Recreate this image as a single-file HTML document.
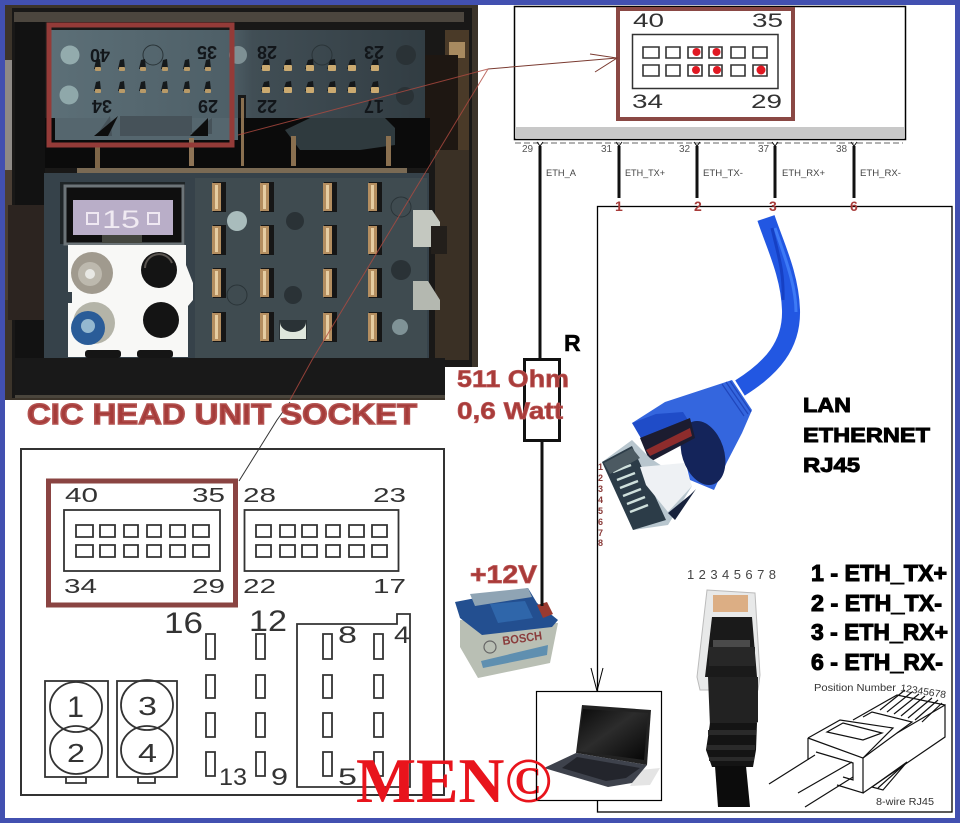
<!DOCTYPE html>
<html><head><meta charset="utf-8"><style>
html,body{margin:0;padding:0;background:#fff}
svg{display:block}
text{font-family:"Liberation Sans",sans-serif}
</style></head><body>
<svg xmlns="http://www.w3.org/2000/svg" width="960" height="823" viewBox="0 0 960 823">
<defs>
<linearGradient id="scr" x1="0" x2="1" y1="0" y2="1"><stop offset="0" stop-color="#0a0a0a"/><stop offset=".45" stop-color="#2c2c2c"/><stop offset="1" stop-color="#050505"/></linearGradient>
<linearGradient id="pan" x1="0" x2="1" y1="0" y2="0"><stop offset="0" stop-color="#5c6f77"/><stop offset=".48" stop-color="#4e5f67"/><stop offset=".54" stop-color="#414e55"/><stop offset="1" stop-color="#323d43"/></linearGradient>
<g id="sp"><path d="M-4 3L-2 -6L2 -7L3 3Z" fill="#161a1c"/><rect x="-3" y="1" width="6" height="4" rx="1" fill="#b89a68"/></g>
<g id="sq"><path d="M-5 3L-2 -6L3 -7L4 3Z" fill="#15181a"/><rect x="-4" y="-1" width="8" height="6" rx="1" fill="#cbaa70"/></g>
<g id="bp"><rect x="-2" y="0" width="13" height="30" fill="#161616"/><rect x="-3" y="1" width="9" height="28" fill="#b48e60"/><rect x="0" y="3" width="3" height="24" fill="#e6cda2"/></g>
</defs>
<rect width="960" height="823" fill="#fff"/>

<!-- PHOTO -->
<rect x="5" y="5" width="473" height="405" fill="#3c342a"/>
<rect x="5" y="60" width="10" height="110" fill="#8e8a86"/>
<rect x="5" y="170" width="10" height="130" fill="#4a3e34"/>
<rect x="12" y="8" width="460" height="390" fill="#191817"/>
<rect x="14" y="12" width="450" height="10" fill="#4c463e"/>
<rect x="15" y="22" width="30" height="340" fill="#121212"/>
<rect x="8" y="205" width="38" height="115" fill="#2c2420"/>
<rect x="445" y="30" width="24" height="330" fill="#4a3a28"/>
<rect x="449" y="42" width="16" height="16" fill="#a88a60"/>
<rect x="420" y="55" width="38" height="100" fill="#1e1712"/>
<rect x="435" y="150" width="34" height="210" fill="#3a3025"/>
<rect x="50" y="30" width="375" height="90" fill="url(#pan)"/>
<rect x="238" y="95" width="8" height="70" fill="#181818"/>
<rect x="45" y="118" width="385" height="50" fill="#0b0b0b"/>
<path d="M55 118H238V140H55Z" fill="#55666e"/>
<path d="M110 116l-14 20 16 0zM212 118l-22 16h22zM120 116h72v20h-72z" fill="#465259"/>
<path d="M118 116l-10 20-14 0zM208 118l-18 18h18z" fill="#0d0d0d"/>
<path d="M285 130L310 118H385L395 128V145L360 150H300Z" fill="#2f3a3e"/>
<rect x="77" y="168" width="330" height="5" fill="#7a6a54"/>
<rect x="95" y="146" width="5" height="22" fill="#7e6648"/>
<rect x="189" y="138" width="5" height="28" fill="#8e7456"/>
<rect x="241" y="98" width="3" height="68" fill="#8a7050"/>
<rect x="291" y="136" width="5" height="30" fill="#8a7050"/>
<rect x="386" y="136" width="5" height="30" fill="#8a7050"/>
<rect x="44" y="173" width="385" height="190" fill="#36424a"/>
<rect x="195" y="178" width="232" height="180" fill="#3f4b50"/>
<rect x="60" y="182" width="125" height="62" fill="#1f2527"/>
<rect x="65" y="186" width="118" height="58" fill="#0f0f0f" stroke="#6c7478" stroke-width="3"/>
<rect x="73" y="200" width="100" height="35" fill="#b9aec8"/>
<rect x="87" y="213" width="11" height="11" fill="none" stroke="#efe8f2" stroke-width="2"/>
<rect x="148" y="213" width="11" height="11" fill="none" stroke="#efe8f2" stroke-width="2"/>
<text x="102" y="228" font-size="25" fill="#f0eaf2" textLength="38" lengthAdjust="spacingAndGlyphs">15</text>
<rect x="102" y="235" width="40" height="8" fill="#44463f"/>
<path d="M68 245H186V265L193 283V300L188 306V357H68V303H72V292H68Z" fill="#f8f8f6"/>
<circle cx="92" cy="273" r="21" fill="#a09a8e"/><circle cx="90" cy="274" r="12" fill="#bdb9ae"/><circle cx="90" cy="274" r="5" fill="#e8e8e4"/>
<circle cx="159" cy="270" r="18" fill="#141414"/><path d="M145 268a14 14 0 0 1 27-5" fill="none" stroke="#5a5550" stroke-width="2"/>
<circle cx="94" cy="323" r="21" fill="#b4b4a8"/><circle cx="88" cy="328" r="17" fill="#2a5c98"/><circle cx="88" cy="326" r="7" fill="#94b8d0"/>
<circle cx="161" cy="320" r="18" fill="#141414"/>
<rect x="85" y="350" width="36" height="8" rx="3" fill="#151515"/><rect x="137" y="350" width="36" height="8" rx="3" fill="#151515"/>
<rect x="15" y="358" width="430" height="38" fill="#191919"/>
<rect x="15" y="395" width="430" height="3" fill="#4a453c"/>
<!-- socket holes -->
<circle cx="70" cy="55" r="9.500" fill="#93abad"/><circle cx="69" cy="95" r="9.500" fill="#8fa8aa"/>
<circle cx="238" cy="55" r="9" fill="#7e9094"/>
<circle cx="237" cy="221" r="10" fill="#a9bcbc"/><circle cx="400" cy="327" r="8" fill="#7f9296"/>
<g fill="none" stroke="#2a3438" stroke-width="1"><circle cx="153" cy="55" r="10"/><circle cx="322" cy="55" r="10"/><circle cx="237" cy="295" r="10"/><circle cx="401" cy="207" r="10"/></g>
<g fill="#2a3236"><circle cx="406" cy="55" r="10"/><circle cx="405" cy="96" r="9"/><circle cx="295" cy="221" r="9"/><circle cx="293" cy="295" r="9"/><circle cx="401" cy="270" r="10"/></g>
<!-- top pins -->
<use href="#sp" x="98" y="66"/><use href="#sp" x="122" y="66"/><use href="#sp" x="143" y="66"/><use href="#sp" x="165" y="66"/><use href="#sp" x="187" y="66"/><use href="#sp" x="208" y="66"/>
<use href="#sp" x="98" y="88"/><use href="#sp" x="122" y="88"/><use href="#sp" x="143" y="88"/><use href="#sp" x="165" y="88"/><use href="#sp" x="187" y="88"/><use href="#sp" x="208" y="88"/>
<use href="#sq" x="266" y="66"/><use href="#sq" x="288" y="66"/><use href="#sq" x="310" y="66"/><use href="#sq" x="332" y="66"/><use href="#sq" x="352" y="66"/><use href="#sq" x="375" y="66"/>
<use href="#sq" x="266" y="88"/><use href="#sq" x="288" y="88"/><use href="#sq" x="310" y="88"/><use href="#sq" x="332" y="88"/><use href="#sq" x="352" y="88"/><use href="#sq" x="375" y="88"/>
<g fill="#12161a" font-size="18" font-weight="bold">
<text transform="rotate(180 100 55)" x="90" y="61">40</text><text transform="rotate(180 207 52)" x="197" y="58">35</text>
<text transform="rotate(180 102 106)" x="92" y="112">34</text><text transform="rotate(180 208 106)" x="198" y="112">29</text>
<text transform="rotate(180 267 52)" x="257" y="58">28</text><text transform="rotate(180 374 52)" x="364" y="58">23</text>
<text transform="rotate(180 267 106)" x="257" y="112">22</text><text transform="rotate(180 374 106)" x="364" y="112">17</text>
</g>
<!-- big pins -->
<use href="#bp" x="215" y="182"/><use href="#bp" x="263" y="182"/><use href="#bp" x="326" y="182"/><use href="#bp" x="371" y="182"/>
<use href="#bp" x="215" y="225"/><use href="#bp" x="263" y="225"/><use href="#bp" x="326" y="225"/><use href="#bp" x="371" y="225"/>
<use href="#bp" x="215" y="268"/><use href="#bp" x="263" y="268"/><use href="#bp" x="326" y="268"/><use href="#bp" x="371" y="268"/>
<use href="#bp" x="215" y="312"/><use href="#bp" x="263" y="312"/><use href="#bp" x="326" y="312"/><use href="#bp" x="371" y="312"/>
<path d="M279 320h28v20h-28z" fill="#2a3236"/><path d="M280 322a13 10 0 0 0 26 0v17h-26z" fill="#dfe6dc"/>
<!-- right clips -->
<path d="M413 210H432L440 222V247H413Z" fill="#c4c8c0"/><path d="M413 281H428L440 300V310H413Z" fill="#b4b8b0"/>
<rect x="431" y="226" width="16" height="28" fill="#231f1b"/>
<!-- red box -->
<rect x="49" y="25" width="183" height="120" fill="none" stroke="#943b38" stroke-width="5"/>

<!-- CIC text -->
<rect x="445" y="367" width="40" height="50" fill="#fff"/>
<rect x="0" y="400" width="445" height="30" fill="#fff"/>
<path d="M290 402L277 420L239 481" fill="none" stroke="#333" stroke-width="1"/>
<text x="27" y="424" font-size="29" font-weight="bold" fill="#a53c3a" stroke="#b45250" stroke-width="1.400" textLength="390" lengthAdjust="spacingAndGlyphs">CIC HEAD UNIT SOCKET</text>

<!-- leaders -->
<g fill="none" stroke="#b04a40" stroke-width="1" opacity=".8">
<path d="M238 135L488 69"/>
<path d="M488 69L312 360L290 400"/>
</g>

<!-- lower-left diagram -->
<rect x="21" y="449" width="423" height="346" fill="none" stroke="#333" stroke-width="2"/>
<rect x="48.500" y="481" width="187" height="124" fill="none" stroke="#8a4442" stroke-width="5"/>
<g fill="none" stroke="#333" stroke-width="1.800">
<rect x="64" y="510" width="156" height="61"/>
<rect x="244.500" y="510" width="154" height="61"/>
<path d="M76 525h17v12h-17zM100 525h15v12h-15zM124 525h14v12h-14zM147 525h14v12h-14zM170 525h15v12h-15zM193 525h16v12h-16z"/>
<path d="M76 545h17v12h-17zM100 545h15v12h-15zM124 545h14v12h-14zM147 545h14v12h-14zM170 545h15v12h-15zM193 545h16v12h-16z"/>
<path d="M256 525h15v12h-15zM280 525h15v12h-15zM302 525h15v12h-15zM326 525h14v12h-14zM349 525h15v12h-15zM372 525h15v12h-15z"/>
<path d="M256 545h15v12h-15zM280 545h15v12h-15zM302 545h15v12h-15zM326 545h14v12h-14zM349 545h15v12h-15zM372 545h15v12h-15z"/>
<path d="M297 624H397V614H410V787H297Z"/>
<path d="M206 634h9v25h-9zM256 634h9v25h-9zM323 634h9v25h-9zM374 634h9v25h-9z"/>
<path d="M206 675h9v23h-9zM256 675h9v23h-9zM323 675h9v23h-9zM374 675h9v23h-9z"/>
<path d="M206 713h9v24h-9zM256 713h9v24h-9zM323 713h9v24h-9zM374 713h9v24h-9z"/>
<path d="M206 752h9v24h-9zM256 752h9v24h-9zM323 752h9v24h-9zM374 752h9v24h-9z"/>
<rect x="45" y="681" width="63" height="96"/><rect x="117" y="681" width="60" height="96"/>
<path d="M66 777v6h20v-6M138 777v6h17v-6"/>
<ellipse cx="76" cy="707" rx="26" ry="25"/><ellipse cx="76" cy="750" rx="26" ry="24"/>
<ellipse cx="147" cy="705" rx="26" ry="25"/><ellipse cx="147" cy="750" rx="26" ry="24"/>
</g>
<g fill="#333" font-size="20">
<text x="65" y="502" textLength="33" lengthAdjust="spacingAndGlyphs">40</text>
<text x="192" y="502" textLength="33" lengthAdjust="spacingAndGlyphs">35</text>
<text x="243" y="502" textLength="33" lengthAdjust="spacingAndGlyphs">28</text>
<text x="373" y="502" textLength="33" lengthAdjust="spacingAndGlyphs">23</text>
<text x="64" y="593" textLength="33" lengthAdjust="spacingAndGlyphs">34</text>
<text x="192" y="593" textLength="33" lengthAdjust="spacingAndGlyphs">29</text>
<text x="243" y="593" textLength="33" lengthAdjust="spacingAndGlyphs">22</text>
<text x="373" y="593" textLength="33" lengthAdjust="spacingAndGlyphs">17</text>
</g>
<g fill="#333" font-size="30">
<text x="164" y="633" textLength="39" lengthAdjust="spacingAndGlyphs">16</text>
<text x="249" y="631" textLength="38" lengthAdjust="spacingAndGlyphs">12</text>
</g>
<g fill="#333" font-size="24">
<text x="338" y="643" textLength="19" lengthAdjust="spacingAndGlyphs">8</text>
<text x="394" y="643" textLength="16" lengthAdjust="spacingAndGlyphs">4</text>
<text x="219" y="785" textLength="28" lengthAdjust="spacingAndGlyphs">13</text>
<text x="271" y="785" textLength="17" lengthAdjust="spacingAndGlyphs">9</text>
<text x="338" y="785" textLength="19" lengthAdjust="spacingAndGlyphs">5</text>
<text x="67" y="717" font-size="30" textLength="17" lengthAdjust="spacingAndGlyphs">1</text>
<text x="67" y="762" font-size="26" textLength="18" lengthAdjust="spacingAndGlyphs">2</text>
<text x="138" y="715" font-size="26" textLength="19" lengthAdjust="spacingAndGlyphs">3</text>
<text x="138" y="762" font-size="26" textLength="19" lengthAdjust="spacingAndGlyphs">4</text>
</g>

<!-- top right box -->
<rect x="514.500" y="6.500" width="391" height="133" fill="#fff" stroke="#000" stroke-width="1.500"/>
<rect x="515" y="127" width="389" height="11" fill="#c8c8c8"/>
<rect x="618" y="9" width="175" height="110" fill="none" stroke="#8a4844" stroke-width="4"/>
<rect x="632.500" y="34.500" width="145.500" height="54" fill="none" stroke="#333" stroke-width="1.500"/>
<path d="M643 47h16v11h-16zM666 47h14v11h-14zM688 47h14v11h-14zM709 47h13v11h-13zM731 47h14v11h-14zM753 47h14v11h-14zM643 65h16v11h-16zM666 65h14v11h-14zM688 65h14v11h-14zM709 65h13v11h-13zM731 65h14v11h-14zM753 65h14v11h-14z" fill="none" stroke="#333" stroke-width="1.600"/>
<g fill="#e01822"><circle cx="696.500" cy="52" r="4"/><circle cx="716.500" cy="52" r="4"/><circle cx="696" cy="70" r="4"/><circle cx="717" cy="70" r="4"/><circle cx="761" cy="70" r="4.500"/></g>
<g fill="#333" font-size="19">
<text x="633" y="27" textLength="31" lengthAdjust="spacingAndGlyphs">40</text>
<text x="752" y="27" textLength="31" lengthAdjust="spacingAndGlyphs">35</text>
<text x="632" y="108" textLength="31" lengthAdjust="spacingAndGlyphs">34</text>
<text x="751" y="108" textLength="31" lengthAdjust="spacingAndGlyphs">29</text>
</g>
<path d="M488 69L617 58M590 54L617 58L595 72" fill="none" stroke="#7a3a30" stroke-width="1"/>
<path d="M515 143H903" stroke="#999" stroke-width="1.500" stroke-dasharray="6 3"/>
<g stroke="#111" stroke-width="3" fill="none">
<path d="M540 146V359"/><path d="M619 146V198"/><path d="M697 146V198"/><path d="M775 146V198"/><path d="M854 146V198"/>
<path d="M542 441V610"/>
<rect x="524.500" y="359.500" width="35" height="81"/>
</g>
<path d="M537 142l3 4 3-4M616 142l3 4 3-4M694 142l3 4 3-4M772 142l3 4 3-4M851 142l3 4 3-4" fill="none" stroke="#111" stroke-width="1"/>
<g fill="#555" font-size="10">
<text x="522" y="152">29</text><text x="601" y="152">31</text><text x="679" y="152">32</text><text x="758" y="152">37</text><text x="836" y="152">38</text>
</g>
<g fill="#444" font-size="9">
<text x="546" y="176" textLength="30" lengthAdjust="spacingAndGlyphs">ETH_A</text>
<text x="625" y="176" textLength="40" lengthAdjust="spacingAndGlyphs">ETH_TX+</text>
<text x="703" y="176" textLength="40" lengthAdjust="spacingAndGlyphs">ETH_TX-</text>
<text x="782" y="176" textLength="43" lengthAdjust="spacingAndGlyphs">ETH_RX+</text>
<text x="860" y="176" textLength="41" lengthAdjust="spacingAndGlyphs">ETH_RX-</text>
</g>
<text x="564" y="351" font-size="23" font-weight="bold" fill="#000" stroke="#000" stroke-width=".5">R</text>
<g fill="#a83c3a" font-size="24" font-weight="bold" stroke="#b55" stroke-width=".7">
<text x="457" y="387" textLength="112" lengthAdjust="spacingAndGlyphs">511 Ohm</text>
<text x="457" y="419" textLength="106" lengthAdjust="spacingAndGlyphs">0,6 Watt</text>
</g>

<!-- big box -->
<rect x="597.500" y="206.500" width="354.500" height="605.500" fill="#fff" stroke="#000" stroke-width="1.300"/>
<g fill="#a83c3a" font-size="14" font-weight="bold">
<text x="615" y="211">1</text><text x="694" y="211">2</text><text x="769" y="211">3</text><text x="850" y="211">6</text>
</g>

<!-- blue cable -->
<path d="M766 218C775 245 790 275 791 310C792 345 772 368 740 388" fill="none" stroke="#2257e2" stroke-width="18"/>
<path d="M775 228C785 258 796 285 796 312" fill="none" stroke="#3d7af6" stroke-width="3"/>
<path d="M772 228C778 255 784 270 783 300" fill="none" stroke="#1640c4" stroke-width="3"/>
<!-- boot -->
<path d="M632 423L665 402L732 380L752 410L742 433L727 462L714 490L690 480L680 440Z" fill="#3466de"/>
<path d="M722 384L744 416M726 382L748 414M730 381L751 412" stroke="#1f46bc" stroke-width="1.200"/>
<path d="M632 423L656 414L683 412L688 420L642 440Z" fill="#1f4cc8"/>
<ellipse cx="703" cy="453" rx="21" ry="33" transform="rotate(-18 703 453)" fill="#14245a"/>
<path d="M640 438L690 418L695 438L650 462Z" fill="#1c1c30"/>
<path d="M646 450L690 428L692 436L650 456Z" fill="#8e2c2c"/>
<!-- plug -->
<path d="M602 462L632 440L650 458L692 486L668 525L633 530Z" fill="#b8c6ce"/>
<path d="M602 462L632 446L666 520L633 530Z" fill="#2c3c48"/>
<path d="M613 472l18-7M617 480l18-7M620 488l18-7M623 496l18-7M627 504l18-7M630 512l18-7" stroke="#cfe0dc" stroke-width="2.500"/>
<path d="M640 467L684 463L692 486L668 512L646 485Z" fill="#eef1f4"/>
<path d="M668 513L690 495L696 489L675 520Z" fill="#17223c"/>
<path d="M604 463L632 448L640 458L610 474Z" fill="#4c5a62"/>
<g fill="#8a3c3a" font-size="9" font-weight="bold">
<text x="598" y="470">1</text><text x="598" y="481">2</text><text x="598" y="492">3</text><text x="598" y="503">4</text><text x="598" y="514">5</text><text x="598" y="525">6</text><text x="598" y="536">7</text><text x="598" y="546">8</text>
</g>
<g font-weight="bold" fill="#000" stroke="#000" stroke-width=".9" font-size="20">
<text x="803" y="412" textLength="48" lengthAdjust="spacingAndGlyphs">LAN</text>
<text x="803" y="442" textLength="127" lengthAdjust="spacingAndGlyphs">ETHERNET</text>
<text x="803" y="472" textLength="57" lengthAdjust="spacingAndGlyphs">RJ45</text>
</g>
<g font-weight="bold" fill="#000" stroke="#000" stroke-width="1" font-size="23">
<text x="811" y="581" textLength="136" lengthAdjust="spacingAndGlyphs">1 - ETH_TX+</text>
<text x="811" y="611" textLength="131" lengthAdjust="spacingAndGlyphs">2 - ETH_TX-</text>
<text x="811" y="640" textLength="137" lengthAdjust="spacingAndGlyphs">3 - ETH_RX+</text>
<text x="811" y="670" textLength="132" lengthAdjust="spacingAndGlyphs">6 - ETH_RX-</text>
</g>

<!-- black RJ45 -->
<text x="687" y="579" font-size="13" fill="#444" textLength="89" lengthAdjust="spacing">12345678</text>
<path d="M707 590L755 593L760 675L758 690H700L697 677Z" fill="#e8e9e9" stroke="#bbb" stroke-width="1"/>
<rect x="713" y="595" width="35" height="17" fill="#dcae84"/>
<path d="M712 617H752L757 677H705Z" fill="#1a1a1a"/>
<path d="M713 640H750V648H713Z" fill="#4a4a4a"/>
<path d="M709 647H755V666H709Z" fill="#272727"/>
<path d="M708 677H758V722L752 726H710Z" fill="#222"/>
<path d="M710 723H757L756 750L753 767H712L706 750Z" fill="#141414"/>
<path d="M708 730h48v5h-48zM707 745h48v5h-48zM709 757h45v4h-45z" fill="#2a2a2a"/>
<path d="M715 766H746L750 807H718Z" fill="#0c0c0c"/>

<!-- line RJ45 -->
<g fill="none" stroke="#111" stroke-width="1.200">
<path d="M808 738L863 758V793L837 785"/>
<path d="M808 738V760"/>
<path d="M808 738L840 720L893 728L863 758"/>
<path d="M827 732L843 723L882 733L863 740Z"/>
<path d="M863 758L897 733L945 705V737L863 793"/>
<path d="M853 720L897 695L945 705"/>
<path d="M863 717L872 712L912 722L897 733"/>
<path d="M816 752L853 763V780L843 777"/>
<path d="M769 784L815 755M805 807L853 777M798 793L852 762"/>
<path d="M872 787L883 790L907 762ZM878 788L907 762"/>
<path d="M880 710L905 690M887 712L912 692M894 714L919 694M901 716L925 696M908 718L932 698M915 720L938 700M922 722L942 703"/>
</g>
<text x="814" y="691" font-size="10" fill="#333" textLength="82" lengthAdjust="spacingAndGlyphs">Position Number</text>
<text x="900" y="691" font-size="10" fill="#333" transform="rotate(9 900 691)" textLength="46" lengthAdjust="spacingAndGlyphs">12345678</text>
<text x="876" y="805" font-size="10" fill="#333" textLength="58" lengthAdjust="spacingAndGlyphs">8-wire RJ45</text>

<!-- arrow -->
<path d="M591 668L597 691L603 668" fill="none" stroke="#000" stroke-width="1"/>

<!-- laptop -->
<rect x="536.500" y="691.500" width="125" height="109" fill="#fff" stroke="#000" stroke-width="1.200"/>
<path d="M640 770L660 768L650 785L630 786Z" fill="#e4e4e4"/>
<path d="M582 705L651 710L647 765L576 753Z" fill="#222"/>
<path d="M583 709L648 713L644 760L577 751Z" fill="url(#scr)"/>
<path d="M576 753L647 765L632 783L608 787L544 768Z" fill="#3e424c"/>
<path d="M577 757L640 768L626 778L606 781L562 768Z" fill="#23252c"/>

<!-- battery -->
<path d="M460 620L558 623L550 663L478 678L460 647Z" fill="#b9bfb4"/>
<path d="M481 661L548 645L547 655L483 668Z" fill="#5f8fb0"/>
<text x="503" y="645" font-size="12" font-weight="bold" fill="#8a3c3c" transform="rotate(-8 503 645)" textLength="40" lengthAdjust="spacingAndGlyphs">BOSCH</text>
<circle cx="490" cy="647" r="6" fill="none" stroke="#666" stroke-width="1.200"/>
<path d="M455 602L528 588L537 603L558 620L552 627L482 635L460 618Z" fill="#234f90"/>
<path d="M470 594L528 588L532 597L475 606Z" fill="#8fa4b4"/>
<path d="M490 604L525 601L533 618L498 623Z" fill="#2f66aa"/>
<path d="M537 605l10-3 6 12-10 4z" fill="#9a3a30"/>
<text x="470" y="583" font-size="25" font-weight="bold" fill="#a83a38" stroke="#b55" stroke-width=".8" textLength="67" lengthAdjust="spacingAndGlyphs">+12V</text>
<path d="M542 590V606" stroke="#111" stroke-width="3"/>

<!-- MEN -->
<text x="356" y="802" font-size="64" font-weight="bold" fill="#e8141c" style="font-family:'Liberation Serif',serif" textLength="196" lengthAdjust="spacingAndGlyphs">MEN©</text>
<path d="M536.500 770V800" stroke="#000" stroke-width="1.200"/>

<!-- border -->
<rect x="0" y="0" width="960" height="5" fill="#4250b0"/>
<rect x="0" y="818" width="960" height="5" fill="#4250b0"/>
<rect x="0" y="0" width="5" height="823" fill="#4250b0"/>
<rect x="955" y="0" width="5" height="823" fill="#4250b0"/>
</svg>
</body></html>
